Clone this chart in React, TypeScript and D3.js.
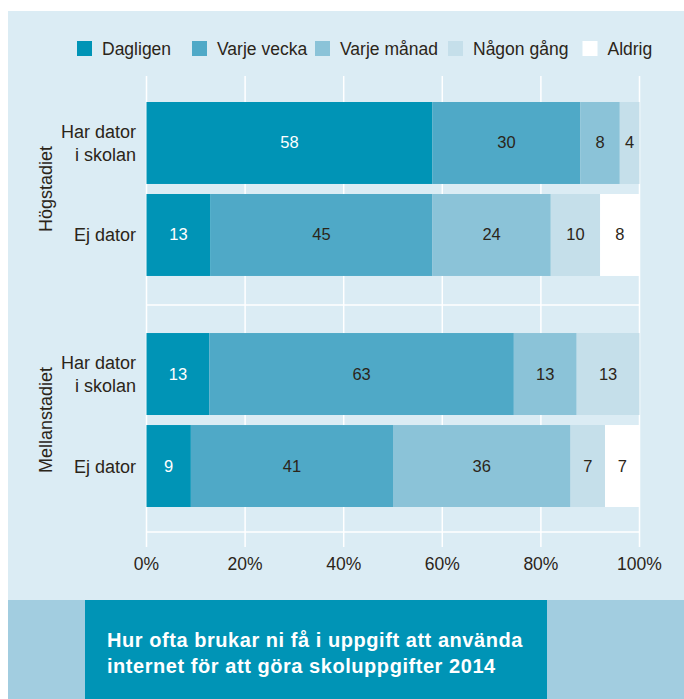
import React from "react";
import * as d3 from "d3";

const series = ["Dagligen", "Varje vecka", "Varje månad", "Någon gång", "Aldrig"];
const groups = ["Högstadiet", "Mellanstadiet"];
const rows = [
  { group: "Högstadiet", label: ["Har dator", "i skolan"], key: "h1" },
  { group: "Högstadiet", label: ["Ej dator"], key: "h2" },
  { group: "Mellanstadiet", label: ["Har dator", "i skolan"], key: "m1" },
  { group: "Mellanstadiet", label: ["Ej dator"], key: "m2" },
];
const values = [
  [58, 30, 8, 4, 0],
  [13, 45, 24, 10, 8],
  [13, 63, 13, 13, 0],
  [9, 41, 36, 7, 7],
];
const ticks = [0, 20, 40, 60, 80, 100];
const titleLines = [
  "Hur ofta brukar ni få i uppgift att använda",
  "internet för att göra skoluppgifter 2014",
];

const colors = ["#0094b6", "#4fa9c7", "#8bc3d8", "#c5dfea", "#ffffff"];
const textDark = "#2b2519";
const FONT = "'Liberation Sans', Arial, sans-serif";

export default function App() {
  const W = 684, H = 699;
  const x = d3.scaleLinear().domain([0, 100]).range([146.5, 639.5]);
  const gScale = d3.scaleBand<string>().domain(groups).range([102, 507]).paddingInner(0.247);
  const rScale = d3.scaleBand<string>().domain(["a", "b"]).range([0, gScale.bandwidth()]).paddingInner(0.109);

  const legendX = [77, 192, 315, 448, 582.5];

  return (
    <svg width={W} height={H} style={{ position: "absolute", left: 0, top: 0 }} fontFamily={FONT}>
      <rect x={0} y={0} width={W} height={H} fill="#ffffff" />
      <rect x={8} y={11} width={W - 8} height={589} fill="#dbecf4" />
      <rect x={8} y={600} width={W - 8} height={H - 600} fill="#a2cde0" />
      <rect x={85} y={600} width={462} height={H - 600} fill="#0094b6" />
      {titleLines.map((t, i) => (
        <text key={i} x={107} y={647 + i * 26} fill="#ffffff" fontWeight="bold" fontSize={20} letterSpacing={0.55}>
          {t}
        </text>
      ))}

      {/* legend */}
      {series.map((s, i) => (
        <g key={s}>
          <rect x={legendX[i]} y={41} width={15} height={15} fill={colors[i]} />
          <text x={legendX[i] + 25} y={54.5} fontSize={17.5} fill={textDark}>{s}</text>
        </g>
      ))}

      {/* gridlines */}
      {ticks.map((t) => (
        <line key={t} x1={x(t)} x2={x(t)} y1={76} y2={547} stroke="#ffffff" strokeWidth={1.5} />
      ))}
      <line x1={x(0)} x2={x(100)} y1={305} y2={305} stroke="#ffffff" strokeWidth={1.5} />
      <line x1={x(0)} x2={x(100)} y1={532} y2={532} stroke="#ffffff" strokeWidth={1.5} />
      {ticks.map((t) => (
        <text key={"t" + t} x={x(t)} y={569.5} fontSize={17.5} textAnchor="middle" fill={textDark}>{t}%</text>
      ))}

      {/* group labels */}
      {groups.map((g) => {
        const cy = (gScale(g) as number) + gScale.bandwidth() / 2;
        return (
          <text key={g} transform={`translate(52,${cy}) rotate(-90)`} textAnchor="middle" fontSize={18} fill={textDark}>
            {g}
          </text>
        );
      })}

      {/* bars */}
      {rows.map((r, ri) => {
        const y0 = (gScale(r.group) as number) + (rScale(ri % 2 === 0 ? "a" : "b") as number);
        const bh = rScale.bandwidth();
        const total = d3.sum(values[ri]);
        let acc = 0;
        const cy = y0 + bh / 2;
        return (
          <g key={r.key}>
            {values[ri].map((v, si) => {
              if (v === 0) return null;
              const a = (acc / total) * 100;
              acc += v;
              const b = (acc / total) * 100;
              return (
                <g key={si}>
                  <rect x={x(a)} y={y0} width={x(b) - x(a)} height={bh} fill={colors[si]} />
                  <text x={(x(a) + x(b)) / 2} y={cy + 5.5} textAnchor="middle" fontSize={16.5} fill={si === 0 ? "#ffffff" : textDark}>
                    {v}
                  </text>
                </g>
              );
            })}
            {r.label.map((l, li) => (
              <text key={li} x={136} y={cy + 6.5 + (r.label.length === 1 ? 0 : (li - 0.5) * 22.5)} textAnchor="end" fontSize={18} fill={textDark}>
                {l}
              </text>
            ))}
          </g>
        );
      })}
    </svg>
  );
}
